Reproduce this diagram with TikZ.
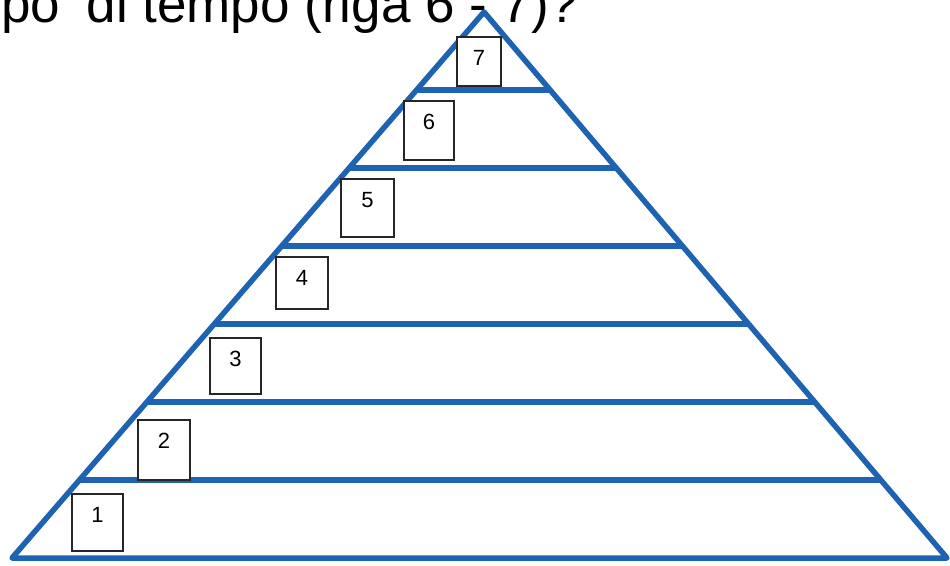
\documentclass[tikz,border=0pt]{standalone}
\usepackage{fontspec}
\setmainfont{Liberation Sans}
\usepackage{xcolor}
\usepackage{tikz}
\usetikzlibrary{calc}
\definecolor{pyrblue}{RGB}{30,98,178}

\tikzset{
	pyrline/.style={line width=5.5pt,pyrblue},
	numbox/.style={draw=black!85,line width=1.8pt,fill=white,anchor=north,inner sep=0pt,
		font=\fontsize{22}{22}\selectfont,text height=29pt},
}

\begin{document}
\begin{tikzpicture}[x=1pt,y=-1pt]
		\useasboundingbox (0,0) rectangle (950,565);
		\clip (0,0) rectangle (950,565);
		% question line, cut at the top
		\node[anchor=base west,inner sep=0pt,font=\fontsize{53}{60}\selectfont] (question) at (1,22) {po' di tempo (riga 6 - 7)?};
		\coordinate (apex) at (484,12);
		\coordinate (bl) at (12,558);
		\coordinate (br) at (947,558);
		\foreach \k in {1,...,6}
			\draw[pyrline] ($(bl)!\k/7!(apex)$) -- ($(br)!\k/7!(apex)$);
		\draw[pyrline,line join=round] (bl) -- (apex) -- (br) -- cycle;
		% numbered boxes, one per level
		\node[numbox,minimum width=51pt,text depth=28pt] (b1) at (97.5,493) {1};
		\node[numbox,minimum width=52pt,text depth=31pt] (b2) at (164,419) {2};
		\node[numbox,minimum width=51pt,text depth=27pt] (b3) at (235.5,337) {3};
		\node[numbox,minimum width=52pt,text depth=23pt] (b4) at (302,256) {4};
		\node[numbox,minimum width=53pt,text depth=29pt] (b5) at (367.5,178) {5};
		\node[numbox,minimum width=50pt,text depth=30pt] (b6) at (429,100) {6};
		\node[numbox,minimum width=44pt,text depth=20pt] (b7) at (479,36) {7};
	\end{tikzpicture}
\end{document}
